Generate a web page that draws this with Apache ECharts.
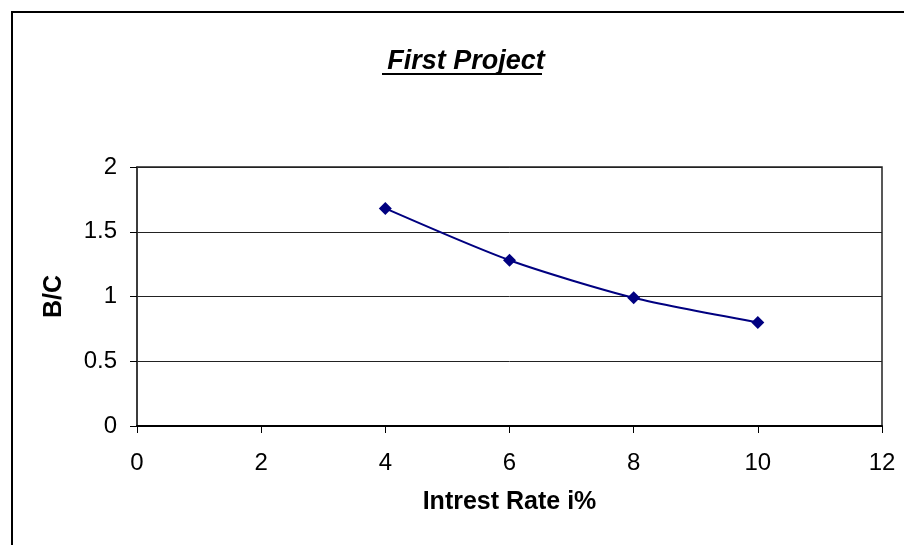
<!DOCTYPE html>
<html><head><meta charset="utf-8">
<script src="https://cdn.jsdelivr.net/npm/echarts@6/dist/echarts.min.js"></script>
<style>html,body{margin:0;padding:0;background:#fff}#c{width:904px;height:545px}</style>
</head><body><div id="c"></div>
<script>
const rates = [4, 6, 8, 10];
const bcValues = [1.68, 1.28, 0.99, 0.80];
const xTicks = [0, 2, 4, 6, 8, 10, 12];
const yTicks = [0, 0.5, 1, 1.5, 2];
const titleText = 'First Project';
const xName = 'Intrest Rate i%';
const yName = 'B/C';

const chart = echarts.init(document.getElementById('c'));
const F = '"Liberation Sans", Arial, sans-serif';
chart.setOption({
  backgroundColor: '#fff',
  animation: false,
  title: {
    text: titleText, left: 461, top: 43, textAlign: 'center',
    textStyle: { fontFamily: F, fontSize: 27, fontWeight: 'bold', fontStyle: 'italic', color: '#000' }
  },
  grid: { left: 137, top: 167, right: 22, bottom: 119, show: true, borderColor: '#222', borderWidth: 1.5 },
  xAxis: {
    type: 'value', min: xTicks[0], max: xTicks[xTicks.length - 1], interval: 2,
    name: xName, nameLocation: 'middle', nameGap: 64,
    nameTextStyle: { fontFamily: F, fontSize: 25, fontWeight: 'bold', color: '#000' },
    axisLine: { show: true, lineStyle: { color: '#000', width: 2 } },
    axisTick: { show: true, inside: false, length: 7, lineStyle: { color: '#000' } },
    axisLabel: { margin: 25, fontFamily: F, fontSize: 24, color: '#000' },
    splitLine: { show: false }
  },
  yAxis: {
    type: 'value', min: yTicks[0], max: yTicks[yTicks.length - 1], interval: 0.5,
    name: yName, nameLocation: 'middle', nameGap: 70,
    nameTextStyle: { fontFamily: F, fontSize: 25, fontWeight: 'bold', color: '#000' },
    axisLine: { show: true, lineStyle: { color: '#333', width: 1.5 } },
    axisTick: { show: true, inside: false, length: 7, lineStyle: { color: '#000' } },
    axisLabel: { margin: 20, fontFamily: F, fontSize: 24, color: '#000' },
    splitLine: { show: true, lineStyle: { color: '#222', width: 1 } }
  },
  series: [{
    type: 'line', data: rates.map((r, i) => [r, bcValues[i]]),
    smooth: 0.25, symbol: 'diamond', symbolSize: 13,
    lineStyle: { color: '#000080', width: 2 },
    itemStyle: { color: '#000080' }
  }],
  graphic: [
    { type: 'rect', shape: { x: 12, y: 12, width: 1000, height: 1000 }, style: { fill: 'none', stroke: '#000', lineWidth: 2 }, silent: true },
    { type: 'line', shape: { x1: 382, y1: 74, x2: 542, y2: 74 }, style: { stroke: '#000', lineWidth: 2 }, silent: true }
  ]
});
</script></body></html>
